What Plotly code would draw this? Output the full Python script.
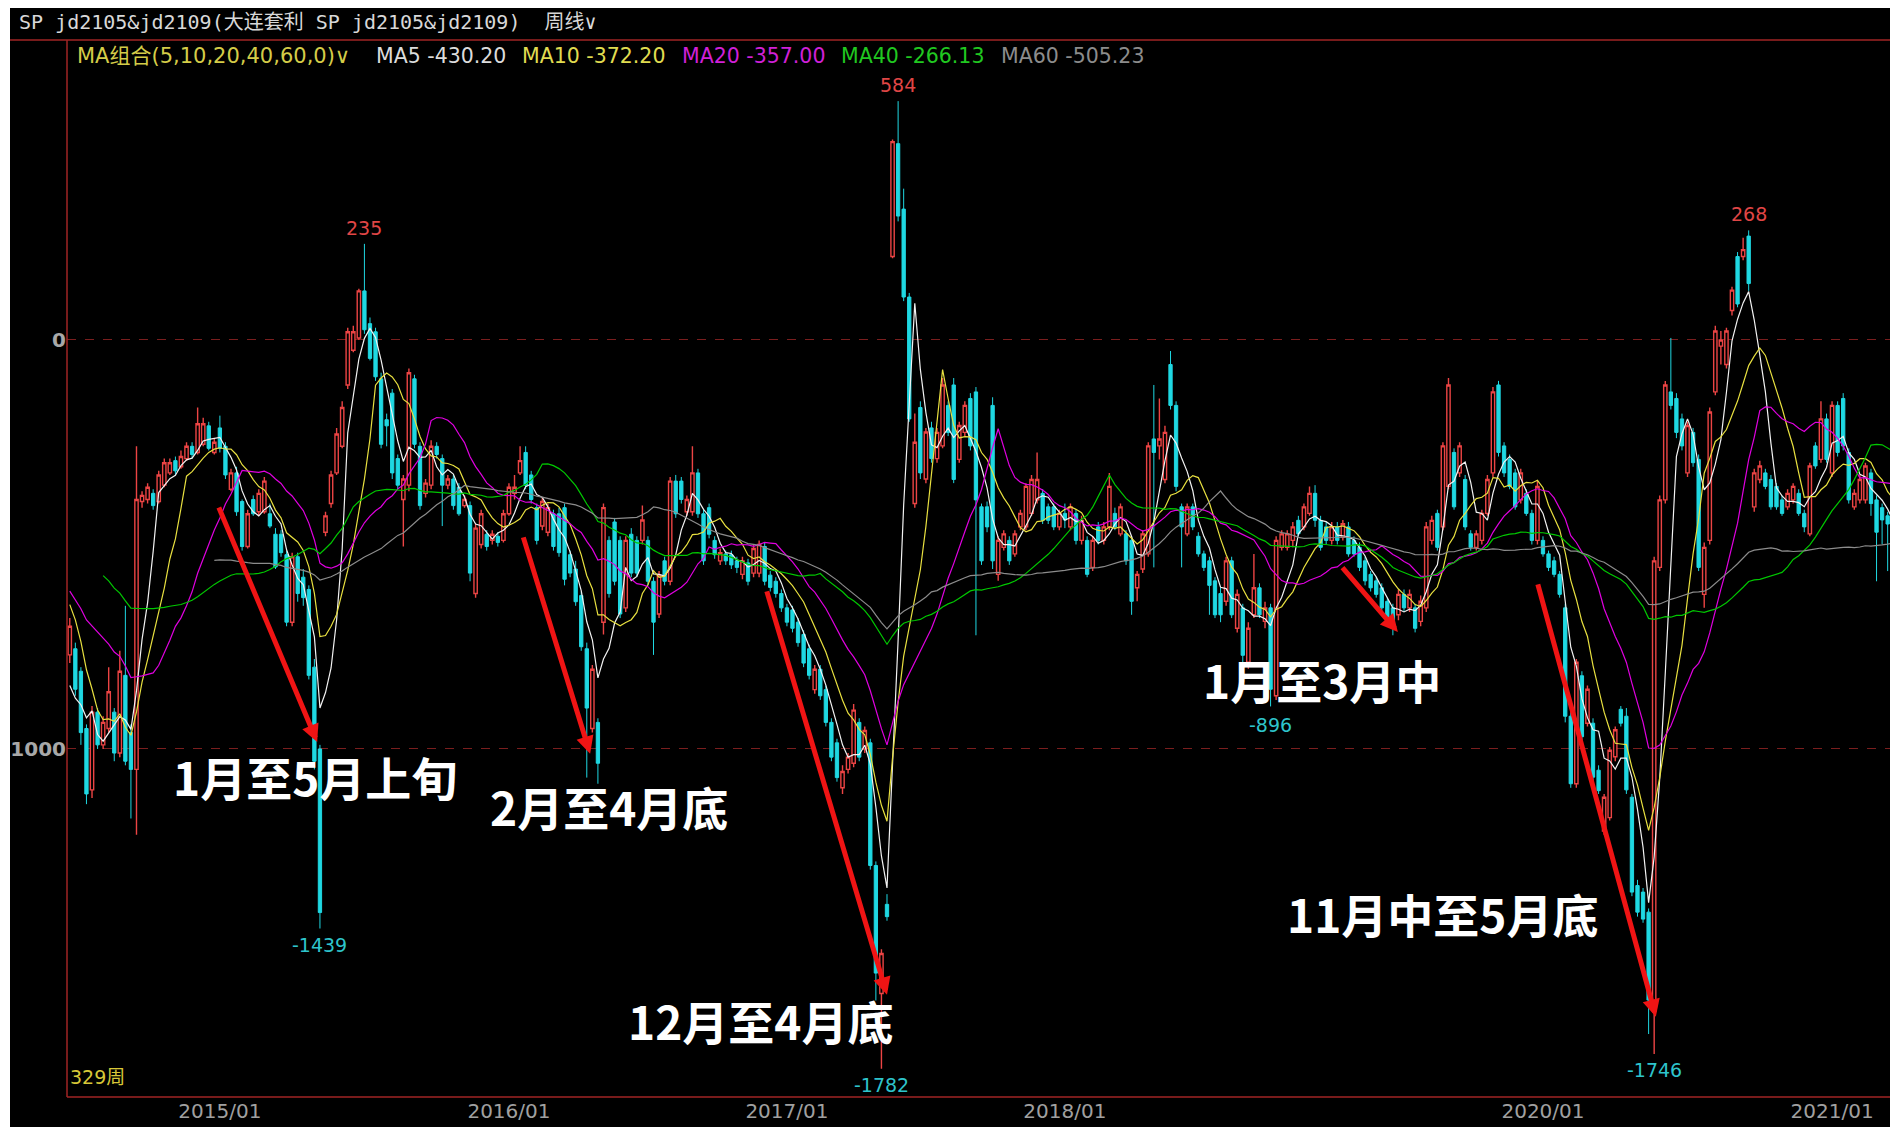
import numpy as np
import pandas as pd
import plotly.graph_objects as go

# weekly spread jd2105 & jd2109, 329 weeks
opens = [
    -770, -755, -810, -950, -1100, -910, -990, -950, -910, -1010, -820, -960, -1050, -395, -390, -375, -395, -355, -325, -295, -310, -290, -260, -275, -255, -210, -275, -215, -260, -365, -325, -395, -505, -390, -420, -420, -425, -475, -475, -525, -690,
    -530, -580, -610, -800, -1000, -470, -400, -325, -260, -110, -25, 5, 120, 40, 20, -95, -195, -130, -290, -390, -355, -95, -260, -375, -355, -260, -290, -355, -340, -360, -405, -405, -620, -500, -475, -490, -480, -490, -425, -375, -325,
    -275, -330, -410, -455, -470, -425, -425, -410, -525, -560, -625, -755, -950, -935, -690, -490, -445, -490, -655, -475, -490, -490, -490, -590, -670, -540, -590, -345, -345, -420, -420, -325, -425, -410, -490, -540, -523, -525, -540, -573, -545,
    -570, -570, -505, -575, -590, -620, -655, -660, -690, -720, -755, -855, -805, -855, -935, -985, -1095, -1050, -1035, -935, -1000, -985, -1285, -1598, -1380, 204, 480, 320, 105, -400, -165, -340, -215, -290, -259, -160, -110, -292, -226, -143, -127, -408,
    -408, -160, -573, -507, -490, -523, -457, -457, -424, -391, -375, -408, -408, -457, -424, -457, -424, -490, -490, -556, -457, -490, -457, -424, -474, -474, -490, -606, -560, -523, -242, -259, -341, -60, -160, -408, -474, -408, -480, -523, -540,
    -589, -620, -639, -540, -705, -655, -788, -672, -606, -688, -655, -870, -507, -507, -490, -441, -457, -424, -375, -441, -457, -490, -457, -482, -457, -490, -507, -540, -573, -589, -606, -639, -655, -672, -622, -655, -655, -688, -655, -490, -424,
    -457, -358, -275, -325, -341, -474, -507, -490, -424, -325, -110, -259, -292, -325, -391, -375, -424, -490, -490, -523, -540, -573, -655, -920, -1085, -821, -937, -937, -1052, -1201, -1168, -1019, -903, -920, -1118, -1334, -1350, -1399, -1640, -556, -391, -127,
    -143, -193, -325, -226, -292, -622, -490, -127, -15, -60, 72, 204, 204, 254, -408, -341, -325, -341, -358, -391, -408, -391, -375, -424, -474, -259, -292, -193, -325, -160, -143, -275, -408, -391, -391, -325, -391, -410, -430, -440,
]
highs = [
    -680, -740, -800, -940, -895, -900, -920, -800, -900, -760, -650, -940, -260, -370, -350, -365, -320, -290, -290, -285, -270, -250, -250, -165, -190, -200, -240, -185, -250, -315, -310, -390, -415, -380, -365, -335, -400, -460, -465, -515, -520,
    -520, -560, -600, -780, -990, -420, -320, -215, -150, 30, 35, 125, 235, 55, 30, -80, -180, -120, -280, -330, -70, -85, -250, -340, -245, -250, -280, -330, -330, -350, -380, -395, -450, -415, -465, -465, -470, -415, -350, -330, -260,
    -260, -320, -400, -385, -400, -415, -410, -400, -515, -540, -615, -740, -795, -925, -400, -480, -435, -480, -480, -460, -480, -405, -480, -580, -565, -530, -335, -330, -335, -380, -260, -315, -415, -400, -480, -510, -515, -515, -530, -530, -535,
    -500, -490, -495, -565, -580, -610, -645, -650, -680, -710, -745, -795, -795, -845, -925, -975, -1040, -1010, -890, -925, -945, -975, -1275, -1490, -1355, 490, 584, 370, 115, -180, -150, -215, -200, -215, -93, -150, -93, -200, -150, -130, -115, -400,
    -395, -140, -480, -465, -480, -465, -415, -350, -330, -275, -365, -400, -400, -415, -400, -400, -415, -430, -480, -480, -445, -445, -325, -410, -400, -465, -480, -565, -465, -250, -110, -143, -210, -27, -150, -400, -400, -400, -470, -515, -530,
    -580, -606, -530, -530, -610, -645, -690, -523, -595, -640, -645, -480, -465, -465, -445, -430, -400, -358, -355, -430, -445, -445, -445, -440, -445, -480, -495, -530, -565, -580, -595, -630, -645, -610, -610, -610, -645, -625, -445, -430, -415,
    -250, -93, -265, -250, -330, -465, -465, -415, -330, -115, -100, -250, -280, -315, -315, -365, -415, -345, -480, -515, -530, -565, -645, -910, -780, -810, -845, -925, -1040, -1110, -995, -945, -895, -900, -1110, -1320, -1340, -1390, -530, -380, -100, 5,
    -130, -180, -200, -215, -280, -495, -165, 35, 22, 30, 130, 215, 250, 268, -315, -295, -315, -330, -350, -380, -365, -350, -365, -415, -300, -250, -150, -180, -150, -150, -130, -265, -365, -330, -300, -315, -380, -400, -420, -430,
]
lows = [
    -790, -870, -990, -1135, -1120, -1000, -1000, -960, -1030, -1020, -1040, -1170, -1210, -410, -400, -415, -400, -360, -330, -330, -315, -295, -290, -280, -260, -270, -280, -275, -340, -370, -430, -515, -510, -430, -430, -425, -460, -560, -530, -700, -700,
    -640, -650, -830, -1050, -1439, -480, -410, -330, -265, -120, -30, 0, 15, -50, -100, -265, -260, -340, -365, -505, -370, -265, -415, -385, -365, -290, -455, -365, -415, -430, -410, -590, -630, -510, -515, -500, -505, -495, -430, -390, -330,
    -365, -400, -500, -465, -480, -515, -530, -600, -580, -650, -760, -1070, -960, -1085, -720, -630, -600, -680, -665, -580, -580, -500, -600, -770, -680, -600, -600, -435, -400, -430, -430, -435, -550, -485, -535, -550, -550, -560, -570, -585, -600,
    -580, -580, -600, -615, -630, -665, -700, -715, -750, -800, -830, -865, -880, -945, -1030, -1080, -1110, -1060, -1045, -1030, -1010, -1295, -1615, -1782, -1420, 200, 290, 95, -200, -410, -340, -350, -300, -300, -265, -235, -350, -300, -235, -270, -722, -550,
    -470, -560, -589, -515, -550, -530, -465, -465, -430, -400, -450, -450, -465, -465, -460, -465, -500, -500, -580, -565, -500, -500, -465, -465, -480, -550, -672, -639, -570, -530, -556, -292, -350, -170, -370, -556, -480, -465, -530, -565, -672,
    -680, -690, -650, -680, -715, -837, -804, -680, -680, -705, -896, -880, -515, -515, -507, -480, -465, -430, -457, -515, -500, -500, -500, -490, -530, -530, -565, -600, -615, -630, -665, -700, -722, -685, -665, -665, -715, -700, -665, -500, -515,
    -465, -365, -415, -335, -465, -515, -515, -500, -430, -335, -285, -335, -365, -415, -400, -430, -500, -500, -530, -565, -580, -630, -935, -1095, -1095, -980, -945, -1080, -1110, -1210, -1175, -1030, -945, -1110, -1360, -1410, -1425, -1697, -1746, -565, -400, -170,
    -240, -270, -335, -310, -565, -655, -500, -135, -60, -70, 60, 80, 195, 120, -420, -350, -365, -415, -415, -430, -415, -400, -430, -470, -480, -315, -300, -300, -335, -285, -270, -400, -415, -400, -400, -430, -590, -500, -565, -605,
]
closes = [
    -700, -854, -960, -1110, -910, -990, -935, -860, -1010, -810, -1030, -1050, -390, -380, -360, -405, -330, -300, -300, -320, -285, -260, -280, -205, -205, -265, -250, -265, -330, -325, -420, -505, -425, -425, -375, -345, -455, -555, -520, -690, -530,
    -620, -630, -820, -1030, -1400, -430, -330, -230, -165, 20, 20, 120, 25, -45, -90, -255, -210, -325, -355, -340, -80, -255, -405, -350, -260, -280, -355, -340, -405, -425, -390, -570, -460, -425, -505, -475, -495, -425, -360, -360, -295,
    -355, -390, -490, -395, -410, -505, -520, -585, -570, -640, -750, -900, -805, -1035, -410, -620, -590, -670, -490, -570, -570, -440, -590, -690, -575, -590, -345, -425, -390, -390, -325, -425, -540, -475, -525, -520, -540, -550, -556, -540, -590,
    -510, -500, -590, -605, -620, -655, -690, -705, -740, -790, -820, -805, -870, -935, -1020, -1070, -1055, -1020, -905, -1020, -955, -1285, -1548, -1500, -1410, 485, 303, 105, -193, -250, -325, -225, -290, -226, -110, -226, -341, -209, -160, -259, -391, -540,
    -457, -540, -490, -474, -540, -474, -424, -358, -341, -341, -441, -441, -457, -424, -440, -408, -490, -441, -573, -490, -490, -457, -358, -457, -408, -540, -639, -573, -474, -259, -275, -242, -226, -160, -358, -457, -408, -457, -523, -556, -600,
    -672, -672, -540, -672, -622, -771, -705, -606, -672, -655, -854, -490, -474, -474, -457, -474, -408, -375, -441, -507, -490, -457, -490, -449, -523, -523, -556, -589, -606, -622, -655, -688, -705, -622, -655, -622, -705, -639, -457, -441, -507,
    -259, -110, -408, -259, -457, -507, -474, -424, -341, -127, -275, -325, -358, -408, -325, -424, -490, -358, -523, -556, -573, -622, -920, -1085, -788, -970, -854, -1069, -1102, -1118, -1003, -953, -937, -1100, -1350, -1399, -1416, -1614, -540, -391, -110, -160,
    -226, -259, -209, -300, -556, -507, -176, 22, 0, 22, 122, 88, 221, 138, -325, -308, -358, -408, -408, -424, -375, -358, -424, -457, -308, -308, -193, -292, -160, -275, -259, -391, -375, -341, -308, -400, -470, -440, -450, -445,
]
# closes of the 33 weeks before the window (not shown, only feed the moving averages)
warmup_closes = [-350, -300, -320, -280, -330, -360, -340, -380, -400, -370, -390, -410, -380, -400,
                 -450, -500, -560, -620, -660, -640, -600, -620, -600, -560,
                 -480, -430, -420, -440, -475, -700, -880, -950, -995]

ma_periods = [5, 10, 20, 40, 60]
ma_colors = ["#f2f2f2", "#e8e040", "#e000e0", "#00c800", "#8c8c8c"]
ma_legend_text = ["MA5 -430.20", "MA10 -372.20", "MA20 -357.00", "MA40 -266.13", "MA60 -505.23"]
ma_legend_colors = ["#dcdcdc", "#e0dc50", "#d020d8", "#20c820", "#8c8c8c"]

tick_pos = [27, 79, 129, 179, 265, 317]
tick_text = ["2015/01", "2016/01", "2017/01", "2018/01", "2020/01", "2021/01"]

# label text, position (candle index, value)
period_labels = ["1月至5月上旬", "2月至4月底", "12月至4月底", "1月至3月中", "11月中至5月底"]
period_label_pos = [(44.1, -1066), (97.0, -1139), (124.2, -1663), (225.3, -828), (247.0, -1401)]
# arrows: tail (x, y) -> head (x, y)
arrows = [((26.7, -406), (44.5, -983)), ((81.5, -479), (93.6, -1012)),
          ((125.3, -611), (147.0, -1601)), ((228.7, -553), (238.9, -714)),
          ((264.0, -594), (285.3, -1655))]
high_windows = [(40, 70), (140, 160), (290, 320)]
low_windows = [(30, 60), (140, 150), (200, 230), (270, 290)]
low_label_shift = [-3, -3, -6, -3]

assert len(opens) == len(highs) == len(lows) == len(closes) == 329

# the page puts the figure 8px in from the top-left corner
OFF = 8
W, H = 1898 - OFF, 1127 - OFF
ML, MR, MT, MB = 67 - OFF, 2, 40 - OFF, 30
PW, PH = W - ML - MR, H - MT - MB


def px(x):
    # page pixel -> paper x
    return (x - OFF - ML) / PW


def py(y):
    # page pixel -> paper y
    return (H - MB - (y - OFF)) / PH


UP = "#ec4444"
DOWN = "#1fd8e2"

n = len(closes)
xs = list(range(n))
all_close = pd.Series(warmup_closes + closes, dtype=float)

fig = go.Figure()
fig.add_trace(go.Candlestick(
    x=xs, open=opens, high=highs, low=lows, close=closes,
    increasing=dict(line=dict(color=UP, width=1.4), fillcolor="#000000"),
    decreasing=dict(line=dict(color=DOWN, width=1), fillcolor=DOWN),
    whiskerwidth=0, showlegend=False, hoverinfo="skip"))

for p, c in zip(ma_periods, ma_colors):
    ma = all_close.rolling(p).mean().iloc[len(warmup_closes):].to_numpy()
    fig.add_trace(go.Scatter(x=xs, y=ma, mode="lines", line=dict(color=c, width=1.2),
                             showlegend=False, hoverinfo="skip"))

ann = []
# header
ann.append(dict(text="SP jd2105&jd2109(大连套利 SP jd2105&jd2109)  周线∨", x=px(17), y=py(22),
                xref="paper", yref="paper", xanchor="left", yanchor="middle", showarrow=False,
                font=dict(family="DejaVu Sans Mono, Noto Sans CJK SC", size=20, color="#d8d8d8")))
# MA legend row
legend_x = [374, 520, 680, 839, 999]
ann.append(dict(text="MA组合(5,10,20,40,60,0)∨", x=px(75), y=py(56), xref="paper", yref="paper",
                xanchor="left", yanchor="middle", showarrow=False,
                font=dict(family="DejaVu Sans, Noto Sans CJK SC", size=21, color="#d4cc48")))
for t, c, lx in zip(ma_legend_text, ma_legend_colors, legend_x):
    ann.append(dict(text=t, x=px(lx), y=py(56), xref="paper", yref="paper", xanchor="left",
                    yanchor="middle", showarrow=False,
                    font=dict(family="DejaVu Sans", size=20.5, color=c)))
ann.append(dict(text="329周", x=px(68), y=py(1077), xref="paper", yref="paper", xanchor="left",
                yanchor="middle", showarrow=False,
                font=dict(family="DejaVu Sans, Noto Sans CJK SC", size=19, color="#d8c838")))

hi = np.array(highs)
lo = np.array(lows)
for a, b in high_windows:
    i = a + int(np.argmax(hi[a:b]))
    ann.append(dict(text=f"{hi[i]:.0f}", x=i, y=hi[i], xanchor="center", yanchor="bottom", yshift=3,
                    showarrow=False, font=dict(family="DejaVu Sans", size=19, color="#e04646")))
for (a, b), s in zip(low_windows, low_label_shift):
    i = a + int(np.argmin(lo[a:b]))
    ann.append(dict(text=f"{lo[i]:.0f}", x=i, y=lo[i], xanchor="center", yanchor="top", yshift=s,
                    showarrow=False, font=dict(family="DejaVu Sans", size=19, color="#2ec4cc")))

for (tx, ty), (hx, hy) in arrows:
    ann.append(dict(x=hx, y=hy, ax=tx, ay=ty, xref="x", yref="y", axref="x", ayref="y", text="",
                    showarrow=True, arrowhead=2, arrowsize=0.7, arrowwidth=5, arrowcolor="#f01414"))

for t, (lx, ly) in zip(period_labels, period_label_pos):
    ann.append(dict(text=f"<b>{t}</b>", x=lx, y=ly, xanchor="center", yanchor="middle", showarrow=False,
                    font=dict(family="Noto Sans CJK SC", size=46, color="#ffffff")))

shapes = [
    dict(type="rect", xref="paper", yref="paper", x0=px(10), x1=px(1898 + 10), y0=py(1127 + 10), y1=py(OFF),
         fillcolor="#000000", line=dict(width=0), layer="below"),
    dict(type="line", xref="paper", yref="paper", x0=px(10), x1=px(1898), y0=1, y1=1,
         line=dict(color="#a02424", width=1.5)),
    dict(type="line", xref="paper", yref="paper", x0=0, x1=0, y0=0, y1=1,
         line=dict(color="#a02424", width=1.5)),
    dict(type="line", xref="paper", yref="paper", x0=0, x1=1, y0=0, y1=0,
         line=dict(color="#a02424", width=1.5)),
]

fig.update_layout(
    width=W, height=H, margin=dict(l=ML, r=MR, t=MT, b=MB),
    paper_bgcolor="#ffffff", plot_bgcolor="#000000",
    annotations=ann, shapes=shapes, showlegend=False, boxgap=0.15,
    xaxis=dict(range=[-0.5, n - 0.5], rangeslider=dict(visible=False), showgrid=False, zeroline=False,
               tickmode="array", tickvals=tick_pos, ticktext=tick_text, ticks="", showline=False,
               tickfont=dict(family="DejaVu Sans", size=20, color="#a0a0a0")),
    yaxis=dict(range=[-1851, 733.5], tickmode="array", tickvals=[0, -1000],
               ticktext=["<b>0</b>", "<b>1000</b>"],
               showgrid=True, gridcolor="#7a1e1e", griddash="dash", gridwidth=1, zeroline=False,
               ticks="", showline=False,
               tickfont=dict(family="DejaVu Sans", size=20, color="#a8a8a8")),
)

fig.write_html("out.html")
